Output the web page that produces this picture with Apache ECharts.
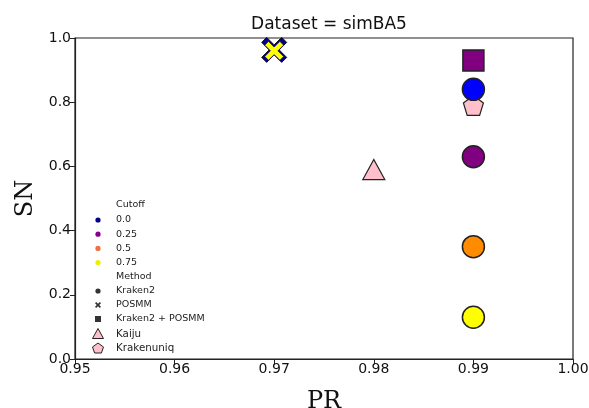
<!DOCTYPE html>
<html><head><meta charset="utf-8">
<script src="https://cdn.jsdelivr.net/npm/echarts@6/dist/echarts.min.js"></script>
<style>html,body{margin:0;padding:0;background:#fff}#c{width:589px;height:408px}</style>
</head><body><div id="c"></div>
<script>
const xTicks = [0.95, 0.96, 0.97, 0.98, 0.99, 1.00];
const yTicks = [0.0, 0.2, 0.4, 0.6, 0.8, 1.0];
// [PR, SN]
const kraken2 = [
  {cutoff: '0.0', color: '#0000ff', pt: [0.99, 0.84]},
  {cutoff: '0.25', color: '#800080', pt: [0.99, 0.63]},
  {cutoff: '0.5', color: '#ff8c00', pt: [0.99, 0.35]},
  {cutoff: '0.75', color: '#ffff00', pt: [0.99, 0.13]}
];
const posmmNavy = [[0.97, 0.963]];
const posmmYellow = [[0.97, 0.96]];
const krakenPosmm = [[0.99, 0.93]];
const kaiju = [[0.98, 0.59]];
const krakenuniq = [[0.99, 0.79]];
const cutoffLegend = [['0.0', '#00008b'], ['0.25', '#8b008b'], ['0.5', '#f07040'], ['0.75', '#eeee00']];
const methodLegend = ['Kraken2', 'POSMM', 'Kraken2 + POSMM'];

const crossPath = 'path://M-3,-5 L0,-2 L3,-5 L5,-3 L2,0 L5,3 L3,5 L0,2 L-3,5 L-5,3 L-2,0 L-5,-3 Z';
const pentPath = 'path://M0,-10 L9.5,-3.1 L5.9,8.1 L-5.9,8.1 L-9.5,-3.1 Z';

const chart = echarts.init(document.getElementById('c'));
const series = [];
kraken2.forEach(k => series.push({type: 'scatter', data: [k.pt], symbol: 'circle', symbolSize: 22,
  itemStyle: {color: k.color, opacity: 1, borderColor: '#222', borderWidth: 1.5}, z: 3}));
series.push({type: 'scatter', data: posmmNavy, symbol: crossPath, symbolSize: 25,
  itemStyle: {color: '#00008b', opacity: 1, borderColor: '#111', borderWidth: 1}, z: 3});
series.push({type: 'scatter', data: posmmYellow, symbol: crossPath, symbolSize: 19,
  itemStyle: {color: '#ffff00', opacity: 1, borderColor: '#00008b', borderWidth: 0.8}, z: 4});
series.push({type: 'scatter', data: krakenPosmm, symbol: 'rect', symbolSize: 21,
  itemStyle: {color: '#800080', opacity: 1, borderColor: '#222', borderWidth: 1.5}, z: 3});
series.push({type: 'scatter', data: kaiju, symbol: 'triangle', symbolSize: [22, 20],
  itemStyle: {color: '#ffc0cb', opacity: 1, borderColor: '#222', borderWidth: 1.2}, z: 3});
series.push({type: 'scatter', data: krakenuniq, symbol: pentPath, symbolSize: 20,
  itemStyle: {color: '#ffc0cb', opacity: 1, borderColor: '#222', borderWidth: 1.2}, z: 2});

const g = [];
const lx = 98, tx = 116;
const txt = (t, yy, fs) => g.push({type: 'text', style: {x: tx, y: yy, text: t, fontSize: fs || 9.5, fill: '#222',
  fontFamily: 'DejaVu Sans', verticalAlign: 'middle', align: 'left'}});
txt('Cutoff', 205);
cutoffLegend.forEach((c, i) => {
  const yy = 220 + i * 14.2;
  g.push({type: 'circle', shape: {cx: lx, cy: yy, r: 2.6}, style: {fill: c[1]}});
  txt(c[0], yy);
});
txt('Method', 277);
const my = [291, 305, 319];
g.push({type: 'circle', shape: {cx: lx, cy: my[0], r: 2.6}, style: {fill: '#333'}});
g.push({type: 'polygon', shape: {points: [[-3,-5],[0,-2],[3,-5],[5,-3],[2,0],[5,3],[3,5],[0,2],[-3,5],[-5,3],[-2,0],[-5,-3]].map(p => [lx + p[0] * 0.6, my[1] + p[1] * 0.6])}, style: {fill: '#333'}});
g.push({type: 'rect', shape: {x: lx - 3, y: my[2] - 3, width: 6, height: 6}, style: {fill: '#333'}});
methodLegend.forEach((m, i) => txt(m, my[i]));
g.push({type: 'polygon', shape: {points: [[lx, 328.5], [lx + 5.5, 338.5], [lx - 5.5, 338.5]]}, style: {fill: '#ffc0cb', stroke: '#222', lineWidth: 1}});
txt('Kaiju', 334, 10.3);
g.push({type: 'polygon', shape: {points: [[lx, 343], [lx + 5.5, 347], [lx + 3.4, 353], [lx - 3.4, 353], [lx - 5.5, 347]]}, style: {fill: '#ffc0cb', stroke: '#222', lineWidth: 1}});
txt('Krakenuniq', 348, 10.3);

chart.setOption({
  animation: false,
  title: {text: 'Dataset = simBA5', left: 324, top: 11, textAlign: 'center',
    textStyle: {fontSize: 17, fontWeight: 'normal', color: '#111', fontFamily: 'DejaVu Sans'}},
  grid: {left: 75, right: 16, top: 38, bottom: 49, show: true, borderColor: '#222', borderWidth: 1.2,
    containLabel: false, outerBoundsMode: 'none'},
  xAxis: {type: 'value', min: xTicks[0], max: xTicks[xTicks.length - 1], interval: 0.01,
    name: 'PR', nameLocation: 'middle', nameGap: 31,
    nameTextStyle: {fontSize: 24, fontFamily: 'DejaVu Serif', color: '#111'},
    axisLine: {lineStyle: {color: '#222', width: 1.2}}, axisTick: {length: 5, lineStyle: {color: '#222'}},
    axisLabel: {fontSize: 14, color: '#111', fontFamily: 'DejaVu Sans', margin: 3, formatter: v => v.toFixed(2)},
    splitLine: {show: false}},
  yAxis: {type: 'value', min: yTicks[0], max: yTicks[yTicks.length - 1], interval: 0.2,
    name: 'SN', nameLocation: 'middle', nameGap: 37,
    nameTextStyle: {fontSize: 24, fontFamily: 'DejaVu Serif', color: '#111'},
    axisLine: {lineStyle: {color: '#222', width: 1.2}}, axisTick: {length: 5, lineStyle: {color: '#222'}},
    axisLabel: {fontSize: 14, color: '#111', fontFamily: 'DejaVu Sans', margin: 4, formatter: v => v.toFixed(1)},
    splitLine: {show: false}},
  series: series,
  graphic: g
});
</script></body></html>
